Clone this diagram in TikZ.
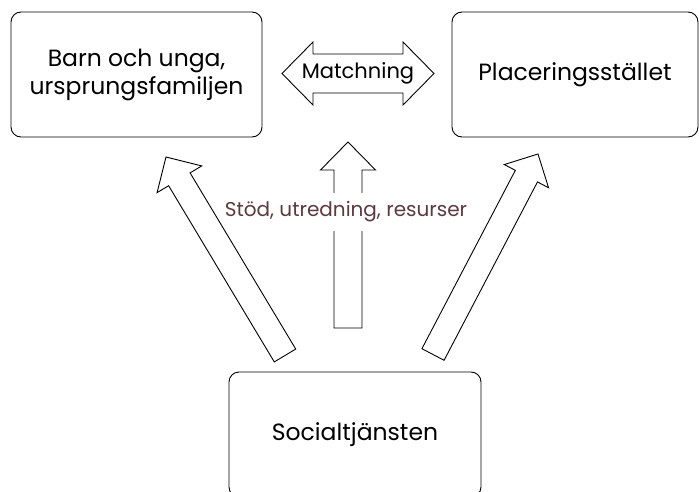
\documentclass[tikz,border=0pt]{standalone}
\usepackage{fontspec}
\setmainfont{Poppins}
\usetikzlibrary{calc, positioning}

\definecolor{labelbrown}{RGB}{91,58,64}

% block arrow: tail, tip, shaft half width, head half width, head length
\newcommand{\blockarrow}[5]{%
    \coordinate (ba-base) at ($(#2)!#5!(#1)$);
    \draw[blockline] ($(#1)!#3!90:(#2)$) -- ($(ba-base)!#3!90:(#2)$)
        -- ($(ba-base)!#4!90:(#2)$) -- (#2) -- ($(ba-base)!#4!-90:(#2)$)
        -- ($(ba-base)!#3!-90:(#2)$) -- ($(#1)!#3!-90:(#2)$) -- cycle;
}

\begin{document}
\begin{tikzpicture}[
    x=1pt, y=-1pt,
    line width=0.9pt,
    font=\fontsize{23.5}{28}\selectfont
]

    % Styles
    \tikzset{roundbox/.style={
        draw,
        rounded corners=10pt,
        minimum width=251pt,
        minimum height=125pt,
        align=center,
        inner sep=0pt
    }}
    \tikzset{blockline/.style={draw, line join=miter}}

    \useasboundingbox (0,0) rectangle (699,492);

    % Boxes
    \node[roundbox] (barn) at (136.5,74.5) {Barn och unga,\\ursprungsfamiljen};
    \node[roundbox, minimum width=246pt] (plac) at (575,74.5) {Placeringsstället};
    \node[roundbox, minimum width=252pt] (soc) at (355,434.5) {Socialtjänsten};

    % Matchning (double arrow)
    \node[font=\fontsize{21}{24}\selectfont] (match) at (358,73.5) {Matchning};
    \draw[blockline] ($(match)+(-76,0)$) -- ($(match)+(-45,-31.5)$) -- ($(match)+(-45,-19.5)$)
        -- ($(match)+(45,-19.5)$) -- ($(match)+(45,-31.5)$) -- ($(match)+(76,0)$)
        -- ($(match)+(45,31.5)$) -- ($(match)+(45,19.5)$) -- ($(match)+(-45,19.5)$)
        -- ($(match)+(-45,31.5)$) -- cycle;

    % Arrows from Socialtjansten
    \coordinate (leftTail) at (285,355.5);
    \coordinate (leftTip) at (166,157);
    \coordinate (midTail) at (348,328);
    \coordinate (midTip) at (348,142);
    \coordinate (rightTail) at (433,354.5);
    \coordinate (rightTip) at (538,154);

    \blockarrow{midTail}{midTip}{14pt}{27.5pt}{28pt}

    % Label on the middle arrow
    \node[fill=white, text=labelbrown, inner xsep=1pt, inner ysep=9pt,
          font=\fontsize{20}{24}\selectfont] (stod) at (346,212) {Stöd, utredning, resurser};

    \blockarrow{leftTail}{leftTip}{12.5pt}{26pt}{26pt}
    \blockarrow{rightTail}{rightTip}{12.5pt}{25pt}{25pt}

\end{tikzpicture}
\end{document}
